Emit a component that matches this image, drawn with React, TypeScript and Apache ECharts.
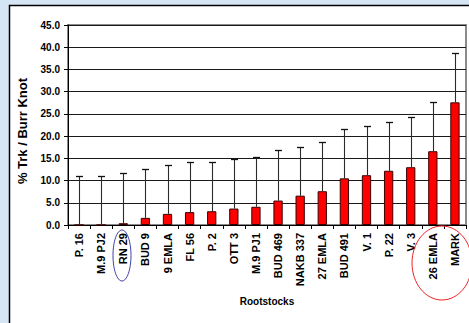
import React, { useEffect, useRef } from "react";
import * as echarts from "echarts";

const categories = [
  "P. 16", "M.9 PJ2", "RN 29", "BUD 9", "9 EMLA", "FL 56", "P. 2", "OTT 3", "M.9 PJ1",
  "BUD 469", "NAKB 337", "27 EMLA", "BUD 491", "V. 1", "P. 22", "V. 3", "26 EMLA", "MARK",
];
const meanValues = [0, 0, 0.4, 1.6, 2.5, 2.9, 3.1, 3.7, 4.1, 5.5, 6.6, 7.6, 10.5, 11.2, 12.2, 13.0, 16.6, 27.6];
const upperErrors = [11.0, 11.0, 11.8, 12.6, 13.5, 14.1, 14.2, 14.8, 15.2, 16.8, 17.6, 18.6, 21.7, 22.3, 23.2, 24.3, 27.6, 38.6];
const yTicks = { min: 0, max: 45, interval: 5 };

export default function App() {
  const ref = useRef<HTMLDivElement>(null);
  useEffect(() => {
    if (!ref.current) return;
    const chart = echarts.init(ref.current, null, { renderer: "svg" });
    const font = "Liberation Sans, Arial, sans-serif";
    chart.setOption({
      animation: false,
      backgroundColor: "#d5e5f4",
      grid: {
        left: 68, right: 3, top: 25, height: 200,
        show: true, borderColor: "#8a8a8a", borderWidth: 2, backgroundColor: "#ffffff",
      },
      graphic: [
        {
          type: "rect", z: -10, silent: true,
          shape: { x: 9.5, y: 5.5, width: 480, height: 340 },
          style: { fill: "#ffffff", stroke: "#000000", lineWidth: 1.5 },
        },
        {
          type: "ellipse", z: 100, silent: true,
          shape: { cx: 122, cy: 255.5, rx: 9, ry: 25.5 },
          style: { fill: "none", stroke: "#3b3ba8", lineWidth: 1 },
        },
        {
          type: "ellipse", z: 100, silent: true,
          shape: { cx: 442, cy: 263, rx: 30, ry: 37 },
          style: { fill: "none", stroke: "#ee2222", lineWidth: 1 },
        },
      ],
      xAxis: {
        type: "category",
        data: categories,
        name: "Rootstocks",
        nameLocation: "middle",
        nameGap: 71,
        nameTextStyle: { fontFamily: font, fontWeight: "bold", fontSize: 10, color: "#000" },
        axisLine: { lineStyle: { color: "#000", width: 1 } },
        axisTick: { show: true, length: 4, interval: 0, lineStyle: { color: "#000" } },
        axisLabel: {
          interval: 0, rotate: 90, margin: 8,
          fontFamily: font, fontWeight: "bold", fontSize: 11, color: "#000",
        },
        splitLine: { show: false },
      },
      yAxis: {
        type: "value",
        min: yTicks.min, max: yTicks.max, interval: yTicks.interval,
        name: "% Trk / Burr Knot",
        nameLocation: "middle",
        nameGap: 39,
        nameRotate: 90,
        nameTextStyle: {
          fontFamily: font, fontWeight: "bold", fontSize: 13, color: "#000",
          padding: [0, 12, 0, 0],
        },
        axisLine: { show: true, lineStyle: { color: "#000", width: 1 } },
        axisTick: { show: true, length: 4, lineStyle: { color: "#000" } },
        axisLabel: {
          margin: 8, fontFamily: font, fontWeight: "bold", fontSize: 10, color: "#000",
          formatter: (v: number) => v.toFixed(1),
        },
        splitLine: { show: true, lineStyle: { color: "#1a1a1a", width: 1.2 } },
      },
      series: [
        {
          type: "bar",
          data: meanValues,
          barWidth: "42%",
          itemStyle: { color: "#ff0000", borderColor: "#3a0000", borderWidth: 1 },
          z: 2,
        },
        {
          type: "custom",
          z: 3,
          data: meanValues.map((v, i) => [i, v, upperErrors[i]]),
          renderItem: (params: any, api: any) => {
            const base = api.coord([api.value(0), api.value(1)]);
            const top = api.coord([api.value(0), api.value(2)]);
            const x = Math.round(base[0]) + 0.5;
            const y1 = Math.round(top[1]) + 0.5;
            const half = 3.5;
            return {
              type: "group",
              children: [
                {
                  type: "line",
                  shape: { x1: x, y1: base[1], x2: x, y2: y1 },
                  style: { stroke: "#2a2a2a", lineWidth: 1.1 },
                },
                {
                  type: "line",
                  shape: { x1: x - half, y1: y1, x2: x + half, y2: y1 },
                  style: { stroke: "#111", lineWidth: 1.3 },
                },
              ],
            };
          },
        },
      ],
    });
    return () => chart.dispose();
  }, []);
  return (
    <div
      ref={ref}
      style={{ position: "absolute", left: 0, top: 0, width: 469, height: 323 }}
    />
  );
}
